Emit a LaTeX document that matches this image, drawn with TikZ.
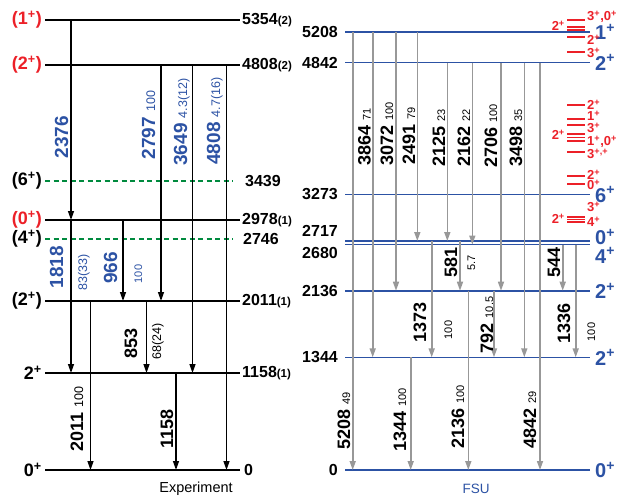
\documentclass[tikz,border=0pt]{standalone}
\usepackage{fontspec}
\setmainfont{Liberation Sans}
\usepackage{xcolor}
\usetikzlibrary{arrows.meta}

\definecolor{lblue}{RGB}{44,82,164}
\definecolor{sred}{RGB}{236,32,40}
\definecolor{dgreen}{RGB}{0,138,62}
\definecolor{agray}{RGB}{152,152,152}

\newcommand{\plusup}{\textsuperscript{+}}
\newcommand{\inten}[1]{{\mdseries\fontsize{12.5}{12.5}\selectfont #1}}
\newcommand{\intsm}[1]{{\mdseries\fontsize{11}{11}\selectfont #1}}
\newcommand{\unc}[1]{{\fontsize{11.5}{11.5}\selectfont #1}}

\begin{document}
\begin{tikzpicture}[
    x=1pt, y=-1pt,
    lvl/.style={line width=1.2pt},
    unlvl/.style={dgreen, line width=1.4pt, dash pattern=on 5pt off 3.5pt},
    fsulvl/.style={lblue, line width=1.6pt},
    thinlvl/.style={lblue, line width=0.9pt},
    smlvl/.style={sred, line width=1.4pt},
    arr/.style={-{Triangle[length=9pt,width=6pt]}, line width=1.3pt},
    garr/.style={arr, agray, line width=1.6pt},
    spin/.style={font=\bfseries\fontsize{18}{18}\selectfont, anchor=east, inner sep=0pt},
    fsuspin/.style={font=\bfseries\fontsize{20}{20}\selectfont, text=lblue, anchor=west, inner sep=0pt},
    energy/.style={font=\bfseries\fontsize{16}{16}\selectfont, inner sep=0pt},
    gam/.style={rotate=90, anchor=base, inner sep=0pt, font=\bfseries\fontsize{18}{18}\selectfont},
    smspin/.style={font=\bfseries\fontsize{13}{13}\selectfont, text=sred, inner sep=0pt}
]
    \useasboundingbox (0,0) rectangle (618,498);

    % Experiment: levels
    \coordinate (exp5354) at (45,20);
    \coordinate (exp4808) at (45,65);
    \coordinate (exp3439) at (45,181);
    \coordinate (exp2978) at (45,220);
    \coordinate (exp2746) at (45,239);
    \coordinate (exp2011) at (45,301);
    \coordinate (exp1158) at (45,373);
    \coordinate (exp0) at (45,470);

    \foreach \lv in {exp5354, exp4808, exp2978, exp2011, exp1158, exp0}
        \draw[lvl] (\lv) -- ++(195,0);
    \draw[unlvl] (exp3439) -- ++(188,0);
    \draw[unlvl] (exp2746) -- ++(188,0);

    \node[spin, text=sred] (j5354) at ([xshift=-3pt]exp5354) {(1\plusup)};
    \node[spin, text=sred] (j4808) at ([xshift=-3pt]exp4808) {(2\plusup)};
    \node[spin] (j3439) at ([xshift=-3pt]exp3439) {(6\plusup)};
    \node[spin, text=sred] (j2978) at ([xshift=-3pt]exp2978) {(0\plusup)};
    \node[spin] (j2746) at ([xshift=-3pt]exp2746) {(4\plusup)};
    \node[spin] (j2011) at ([xshift=-3pt]exp2011) {(2\plusup)};
    \node[spin] (j1158) at ([xshift=-3pt]exp1158) {2\plusup};
    \node[spin] (j0) at ([xshift=-3pt]exp0) {0\plusup};

    \node[energy, anchor=west] (e5354) at ([xshift=197pt]exp5354) {5354\unc{(2)}};
    \node[energy, anchor=west] (e4808) at ([xshift=197pt]exp4808) {4808\unc{(2)}};
    \node[energy, anchor=west] (e3439) at ([xshift=200pt]exp3439) {3439};
    \node[energy, anchor=west] (e2978) at ([xshift=197pt]exp2978) {2978\unc{(1)}};
    \node[energy, anchor=west] (e2746) at ([xshift=198pt]exp2746) {2746};
    \node[energy, anchor=west] (e2011) at ([xshift=197pt]exp2011) {2011\unc{(1)}};
    \node[energy, anchor=west] (e1158) at ([xshift=197pt]exp1158) {1158\unc{(1)}};
    \node[energy, anchor=west] (e0) at ([xshift=199pt]exp0) {0};

    % Experiment: transitions
    \draw[arr] (71,0 |- exp5354) -- (71,0 |- exp2978);
    \draw[arr] (71,0 |- exp2978) -- (71,0 |- exp1158);
    \draw[arr] (123,0 |- exp2978) -- (123,0 |- exp2011);
    \draw[arr] (161,0 |- exp4808) -- (161,0 |- exp2011);
    \draw[arr] (192.5,0 |- exp4808) -- (192.5,0 |- exp1158);
    \draw[arr] (226.5,0 |- exp4808) -- (226.5,0 |- exp0);
    \draw[arr] (90.5,0 |- exp2011) -- (90.5,0 |- exp0);
    \draw[arr] (146.5,0 |- exp2011) -- (146.5,0 |- exp1158);
    \draw[arr] (176,0 |- exp1158) -- (176,0 |- exp0);

    \node[gam, text=lblue, font=\bfseries\fontsize{19}{19}\selectfont] (g2376) at (68,137) {2376};
    \node[gam, text=lblue, font=\bfseries\fontsize{19}{19}\selectfont] (g2797) at (155,125) {2797 \inten{100}};
    \node[gam, text=lblue, font=\bfseries\fontsize{19}{19}\selectfont] (g3649) at (187,122) {3649 \inten{4.3(12)}};
    \node[gam, text=lblue, font=\bfseries\fontsize{19}{19}\selectfont] (g4808) at (220,121) {4808 \inten{4.7(16)}};
    \node[gam, text=lblue, font=\bfseries\fontsize{19}{19}\selectfont] (g1818) at (63,267) {1818};
    \node[gam, text=lblue] (i1818) at (87,272) {\inten{83(33)}};
    \node[gam, text=lblue, font=\bfseries\fontsize{19}{19}\selectfont] (g966) at (117,268) {966};
    \node[gam, text=lblue] (i966) at (142,274) {\intsm{100}};
    \node[gam] (g2011) at (83,419) {2011 \inten{100}};
    \node[gam] (g1158) at (173,429) {1158};
    \node[gam] (g853) at (137,343) {853};
    \node[gam] (i853) at (161,341) {\inten{68(24)}};

    \node[font=\fontsize{14.5}{14.5}\selectfont] (explab) at (196,489) {Experiment};

    % FSU: levels
    \coordinate (fsu5208) at (345,32);
    \coordinate (fsu4842) at (345,62.5);
    \coordinate (fsu3273) at (345,194.3);
    \coordinate (fsu2717) at (345,241);
    \coordinate (fsu2680) at (345,244.5);
    \coordinate (fsu2136) at (345,290.7);
    \coordinate (fsu1344) at (345,357.3);
    \coordinate (fsu0) at (345,470);

    \foreach \lv in {fsu5208, fsu4842, fsu2136, fsu1344, fsu0}
        \draw[fsulvl] (\lv) -- ++(245,0);
    \draw[thinlvl] (fsu3273) -- ++(245,0);
    \draw[thinlvl, line width=1.2pt] (fsu2717) -- ++(245,0);
    \draw[thinlvl, line width=1.2pt] (fsu2680) -- ++(245,0);

    \node[energy, anchor=east] (f5208) at ([xshift=-7pt]fsu5208) {5208};
    \node[energy, anchor=east] (f4842) at ([xshift=-7pt]fsu4842) {4842};
    \node[energy, anchor=east] (f3273) at ([xshift=-7pt]fsu3273) {3273};
    \node[energy, anchor=east] (f2717) at ([xshift=-7pt, yshift=10pt]fsu2717) {2717};
    \node[energy, anchor=east] (f2680) at ([xshift=-7pt, yshift=-8pt]fsu2680) {2680};
    \node[energy, anchor=east] (f2136) at ([xshift=-7pt]fsu2136) {2136};
    \node[energy, anchor=east] (f1344) at ([xshift=-7pt]fsu1344) {1344};
    \node[energy, anchor=east] (f0) at ([xshift=-7pt]fsu0) {0};

    \node[fsuspin] (k5208) at ([xshift=250pt]fsu5208) {1\plusup};
    \node[fsuspin] (k4842) at ([xshift=250pt]fsu4842) {2\plusup};
    \node[fsuspin] (k3273) at ([xshift=250pt]fsu3273) {6\plusup};
    \node[fsuspin] (k2717) at ([xshift=250pt, yshift=4pt]fsu2717) {0\plusup};
    \node[fsuspin] (k2680) at ([xshift=250pt, yshift=-11pt]fsu2680) {4\plusup};
    \node[fsuspin] (k2136) at ([xshift=250pt]fsu2136) {2\plusup};
    \node[fsuspin] (k1344) at ([xshift=250pt]fsu1344) {2\plusup};
    \node[fsuspin] (k0) at ([xshift=250pt]fsu0) {0\plusup};

    % FSU: transitions
    \foreach \x/\a/\b in {352.7/fsu5208/fsu0, 372.7/fsu5208/fsu1344, 396/fsu5208/fsu2136,
        417.3/fsu5208/fsu2717, 447.3/fsu4842/fsu2717, 472.3/fsu4842/fsu2680,
        501/fsu4842/fsu2136, 524.3/fsu4842/fsu1344, 540/fsu4842/fsu0,
        431.7/fsu2717/fsu1344, 460/fsu2717/fsu2136, 468.3/fsu2136/fsu0,
        494/fsu2136/fsu1344, 410.7/fsu1344/fsu0, 562.7/fsu2680/fsu2136,
        575.7/fsu2680/fsu1344}
        \draw[garr] (\x,0 |- \a) -- (\x,0 |- \b);

    \node[gam] (h3864) at (370.5,137) {3864 \intsm{71}};
    \node[gam] (h3072) at (393,134) {3072 \intsm{100}};
    \node[gam] (h2491) at (415,136) {2491 \intsm{79}};
    \node[gam] (h2125) at (445,138) {2125 \intsm{23}};
    \node[gam] (h2162) at (470,138) {2162 \intsm{22}};
    \node[gam] (h2706) at (497,136) {2706 \intsm{100}};
    \node[gam] (h3498) at (522,138) {3498 \intsm{35}};
    \node[gam] (h581) at (457,262) {581};
    \node[gam] (i581) at (475,263) {\intsm{5.7}};
    \node[gam] (h544) at (560,262) {544};
    \node[gam] (h1373) at (426,322) {1373};
    \node[gam] (i1373) at (452,330) {\intsm{100}};
    \node[gam] (h792) at (493,325) {792 \intsm{10.5}};
    \node[gam] (h1336) at (570,323) {1336};
    \node[gam] (i1336) at (595,332) {\intsm{100}};
    \node[gam] (h5208) at (350,421) {5208 \intsm{49}};
    \node[gam] (h1344) at (406,420) {1344 \intsm{100}};
    \node[gam] (h2136) at (464,417) {2136 \intsm{100}};
    \node[gam] (h4842) at (536,420) {4842 \intsm{29}};

    \node[text=lblue, font=\fontsize{13.5}{13.5}\selectfont] (fsulab) at (476,489) {FSU};

    % shell-model levels (red)
    \draw[smlvl, line width=2.2pt] (567,20) -- (585,20);
    \foreach \y in {27, 30, 37, 52, 105, 119, 125, 134, 137.5, 141,
        152, 176, 184, 217, 219.5, 222}
        \draw[smlvl] (567,\y) -- (585,\y);

    \node[smspin, anchor=west] (s1) at (587,17) {3\plusup,0\plusup};
    \node[smspin, anchor=east] (s2) at (565,26) {2\plusup};
    \node[smspin, anchor=west] (s3) at (587,40) {2\plusup};
    \node[smspin, anchor=west] (s4) at (587,53) {3\plusup};
    \node[smspin, anchor=west] (s5) at (587,105) {2\plusup};
    \node[smspin, anchor=west] (s6) at (587,116) {1\plusup};
    \node[smspin, anchor=west] (s7) at (587,128) {3\plusup};
    \node[smspin, anchor=east] (s8) at (565,135) {2\plusup};
    \node[smspin, anchor=west] (s9) at (587,142) {1\plusup,0\plusup};
    \node[smspin, anchor=west] (s10) at (587,154) {3\textsuperscript{+,+}};
    \node[smspin, anchor=west] (s11) at (587,175) {2\plusup};
    \node[smspin, anchor=west] (s12) at (587,185) {0\plusup};
    \node[smspin, anchor=west] (s13) at (587,207) {3\plusup};
    \node[smspin, anchor=west] (s14) at (587,222) {4\plusup};
    \node[smspin, anchor=east] (s15) at (565,219) {2\plusup};
\end{tikzpicture}
\end{document}
